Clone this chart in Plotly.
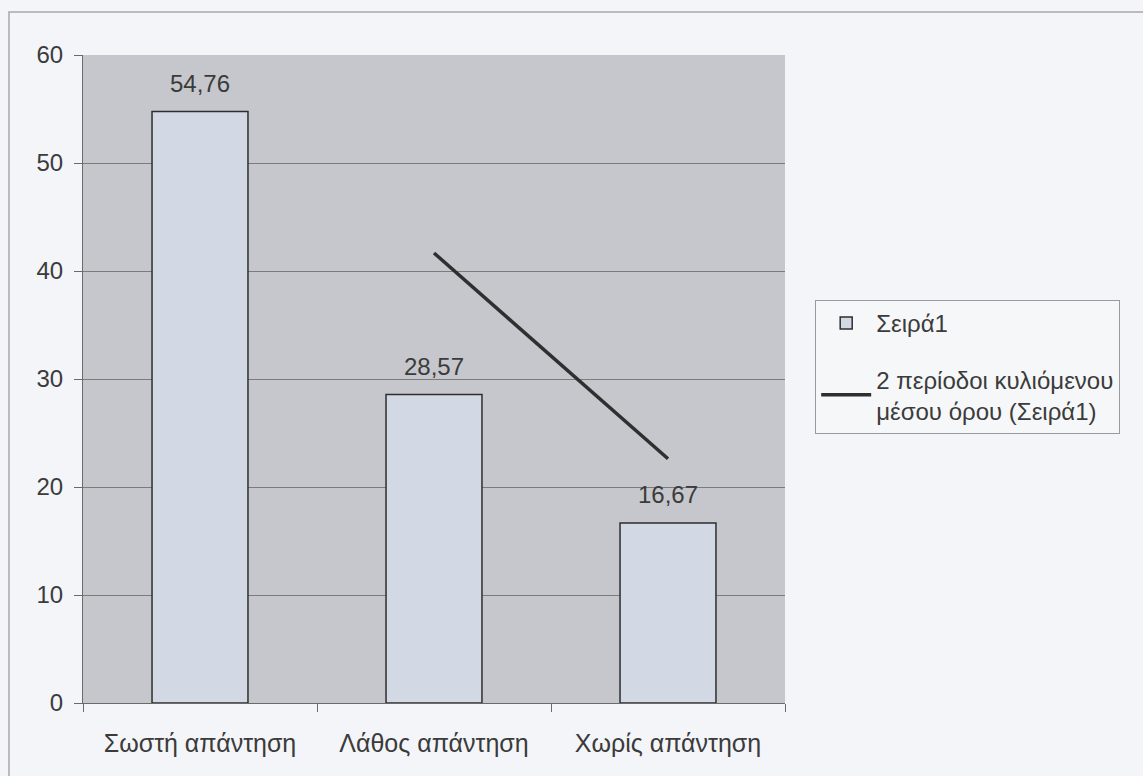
import plotly.graph_objects as go

# Response categories and percentages
categories = ["Σωστή απάντηση", "Λάθος απάντηση", "Χωρίς απάντηση"]
values = [54.76, 28.57, 16.67]
series_name = "Σειρά1"
trend_name = "2 περίοδοι κυλιόμενου<br>μέσου όρου (Σειρά1)"
y_ticks = [0, 10, 20, 30, 40, 50, 60]

# 2-period moving average, plotted from the second category onward
ma_x = categories[1:]
ma_y = [(values[i - 1] + values[i]) / 2 for i in range(1, len(values))]

TEXT = "#3b3b3b"
FONT = "Liberation Sans, Arial, sans-serif"

fig = go.Figure()
fig.add_trace(go.Bar(
    x=categories, y=values, name=series_name,
    marker=dict(color="#d2d8e4", line=dict(color="#2e2e2e", width=1.5)),
    width=0.41, legendgroup="a",
))
fig.add_trace(go.Scatter(
    x=ma_x, y=ma_y, name=trend_name, mode="lines",
    line=dict(color="#2f2f2f", width=3.5), legendgroup="b",
))

# value labels above each bar
for c, v in zip(categories, values):
    fig.add_annotation(
        x=c, y=v, text=f"{v:.2f}".replace(".", ","), showarrow=False,
        yshift=28, font=dict(size=24, color=TEXT, family=FONT),
    )

# outer chart frame
fig.add_shape(
    type="rect", xref="paper", yref="paper",
    x0=(9 - 83) / 702, x1=(1160 - 83) / 702,
    y0=(703 - 800) / 648, y1=(703 - 12) / 648,
    line=dict(color="#a8a8a8", width=1.5), fillcolor="rgba(0,0,0,0)", layer="below",
)

fig.update_layout(
    width=1143, height=776,
    margin=dict(l=83, r=358, t=55, b=73),
    paper_bgcolor="#f4f5f8", plot_bgcolor="#c5c7cc",
    font=dict(family=FONT, color=TEXT, size=24),
    bargap=0.59,
    showlegend=True,
    legend=dict(
        x=1.043, y=0.622, xanchor="left", yanchor="top",
        bgcolor="#f6f7f9", bordercolor="#9a9a9a", borderwidth=1,
        font=dict(size=24, color=TEXT, family=FONT),
        traceorder="grouped", tracegroupgap=22, itemwidth=50,
    ),
    xaxis=dict(
        type="category", tickson="boundaries", ticks="outside", ticklen=8,
        tickcolor="#6a6a6a", showline=True, linecolor="#6a6a6a", linewidth=1,
        showgrid=False, tickfont=dict(size=25), range=[-0.5, 2.5],
        ticklabelstandoff=18,
    ),
    yaxis=dict(
        range=[0, 60], tickvals=y_ticks, ticks="outside", ticklen=8,
        tickcolor="#6a6a6a", showline=True, linecolor="#6a6a6a", linewidth=1,
        showgrid=True, gridcolor="#7c7c7c", gridwidth=1, zeroline=False,
        tickfont=dict(size=24), ticklabelstandoff=6,
    ),
)

fig.write_html("out.html")
